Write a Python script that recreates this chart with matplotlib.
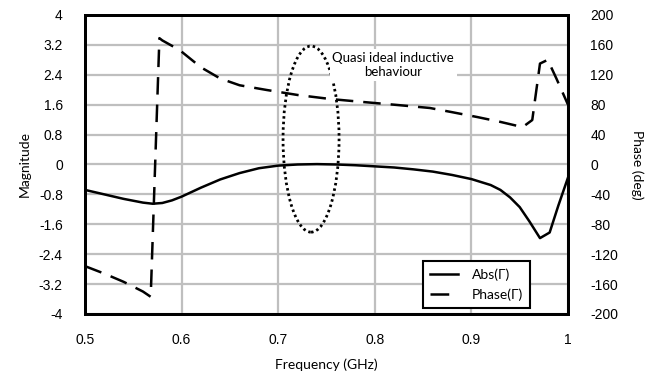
import matplotlib
matplotlib.use("Agg")
import matplotlib.pyplot as plt
from matplotlib.patches import Ellipse
from matplotlib.lines import Line2D

# ---- data ----
freq_abs = [0.50, 0.52, 0.54, 0.56, 0.57, 0.58, 0.59, 0.60, 0.62, 0.64, 0.66, 0.68,
            0.70, 0.72, 0.74, 0.76, 0.78, 0.80, 0.82, 0.84, 0.86, 0.88, 0.90, 0.92,
            0.93, 0.94, 0.95, 0.96, 0.971, 0.981, 0.99, 1.00]
abs_gamma = [-0.68, -0.80, -0.92, -1.02, -1.05, -1.03, -0.96, -0.86, -0.62, -0.40, -0.23, -0.10,
             -0.03, 0.00, 0.01, 0.00, -0.02, -0.05, -0.08, -0.13, -0.19, -0.28, -0.39, -0.55,
             -0.68, -0.88, -1.14, -1.52, -1.97, -1.82, -1.10, -0.35]

freq_phase = [0.50, 0.52, 0.54, 0.56, 0.568, 0.577, 0.58, 0.598, 0.62, 0.64, 0.66, 0.688,
              0.72, 0.754, 0.788, 0.82, 0.857, 0.88, 0.906, 0.93, 0.953, 0.963, 0.971,
              0.979, 0.988, 1.00]
phase_gamma = [-136, -146, -157, -170, -177, 169, 166, 153, 130, 115, 106, 99.7,
               93, 87.6, 83.6, 80, 75.6, 70, 63.5, 57, 50, 59.5, 135,
               140, 115, 80]

xticks = [0.5, 0.6, 0.7, 0.8, 0.9, 1.0]
xtick_labels = ["0.5", "0.6", "0.7", "0.8", "0.9", "1"]
mag_ticks = [-4, -3.2, -2.4, -1.6, -0.8, 0, 0.8, 1.6, 2.4, 3.2, 4]
mag_labels = ["-4", "-3.2", "-2.4", "-1.6", "-0.8", "0", "0.8", "1.6", "2.4", "3.2", "4"]
phase_ticks = [-200, -160, -120, -80, -40, 0, 40, 80, 120, 160, 200]
phase_labels = ["-200", "-160", "-120", "-80", "-40", "0", "40", "80", "120", "160", "200"]

series_labels = ["Abs(\u0393)", "Phase(\u0393)"]
annotation = "Quasi ideal inductive\nbehaviour"

# ---- styles ----
tick_font = "Liberation Sans"
label_font = ["Lato", "DejaVu Sans"]
grid_color = "#bfbfbf"
lw = 1.8

fig = plt.figure(figsize=(6.54, 3.75), dpi=100)
ax = fig.add_axes([0.130, 0.1627, 0.7385, 0.7973])
ax2 = ax.twinx()

ax.set_xlim(0.5, 1.0)
ax.set_ylim(-4, 4)
ax2.set_ylim(-200, 200)

ax.set_xticks(xticks)
ax.set_xticklabels(xtick_labels, fontfamily=tick_font, fontsize=10)
ax.set_yticks(mag_ticks)
ax.set_yticklabels(mag_labels, fontfamily=tick_font, fontsize=10)
ax2.set_yticks(phase_ticks)
ax2.set_yticklabels(phase_labels, fontfamily=tick_font, fontsize=10)

ax.tick_params(axis="both", length=0)
ax.tick_params(axis="y", pad=16)
ax.tick_params(axis="x", pad=14)
ax2.tick_params(axis="y", length=0, pad=16)

ax.grid(True, color=grid_color, linewidth=1.6)
ax.set_axisbelow(True)

for a in (ax, ax2):
    for s in a.spines.values():
        s.set_linewidth(2.1)
        s.set_color("black")

ax.plot(freq_abs, abs_gamma, color="black", linewidth=lw, solid_joinstyle="round")
ax2.plot(freq_phase, phase_gamma, color="black", linewidth=lw, dashes=(7, 4))

ax.set_xlabel("Frequency (GHz)", fontfamily=label_font, fontsize=10, labelpad=8)
ax.set_ylabel("Magnitude", fontfamily=label_font, fontsize=10, labelpad=6)
ax2.set_ylabel("Phase (deg)", fontfamily=label_font, fontsize=10, rotation=-90, labelpad=18)

ell = Ellipse((0.734, 0.68), 0.058, 4.98, transform=ax.transData, fill=False,
              edgecolor="black", linewidth=2.0, linestyle=(0, (0.9, 1.1)))
ax2.add_patch(ell)

ax2.text(0.819, 2.66, annotation, transform=ax.transData, ha="center", va="center",
         fontfamily=label_font, fontsize=9.5, linespacing=1.25,
         bbox=dict(facecolor="white", edgecolor="none", pad=2))

handles = [Line2D([], [], color="black", linewidth=lw),
           Line2D([], [], color="black", linewidth=lw, dashes=(7.5, 12))]
leg = ax2.legend(handles, series_labels, loc="lower right", bbox_to_anchor=(0.921, 0.02),
                 prop={"family": label_font, "size": 10}, frameon=True, fancybox=False,
                 edgecolor="black", framealpha=1, handlelength=2.0, borderpad=0.5,
                 labelspacing=0.55, handletextpad=1.0, borderaxespad=0)
leg.get_frame().set_linewidth(1.5)

fig.savefig("out.png", dpi=100)
